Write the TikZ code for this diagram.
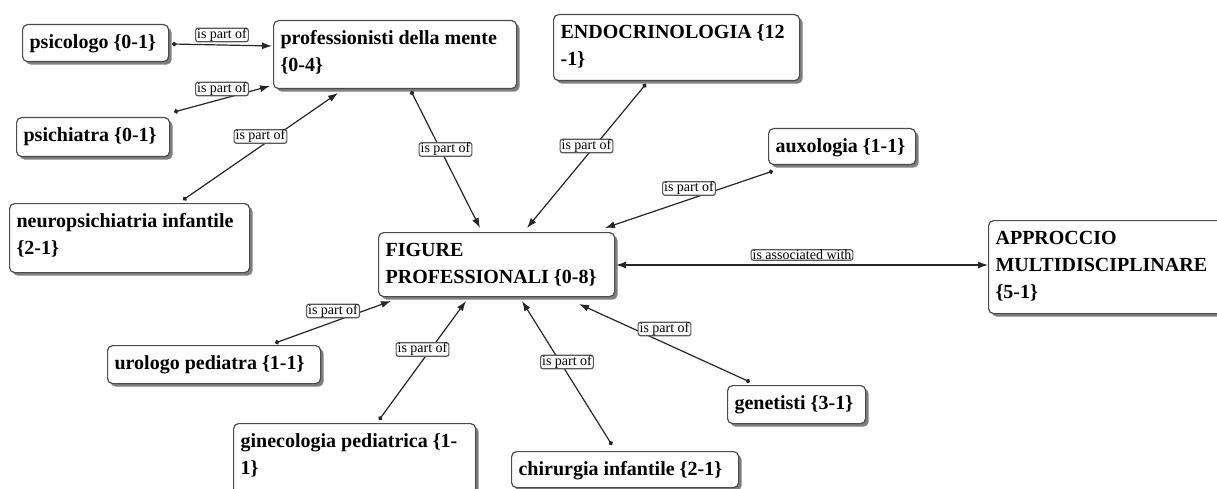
\documentclass[tikz,border=0pt]{standalone}
\usepackage{fontspec}
\setmainfont{Liberation Serif}
\usetikzlibrary{arrows.meta,shadows}

% text block of a concept box: fixed size, text set from the top left
\newcommand{\boxtext}[3]{\parbox[c][#2][t]{#1}{\raggedright\strut #3}}

\tikzset{
  concept/.style={rectangle, rounded corners=5pt, draw=black!70, line width=1.2pt,
    fill=white, anchor=north west, inner xsep=7pt, inner ysep=5pt,
    font=\fontsize{20}{27}\selectfont\bfseries,
    drop shadow={shadow xshift=3pt, shadow yshift=-3pt, opacity=0.5, fill=black}},
  lbl/.style={rectangle, rounded corners=2.5pt, draw=black!65, line width=1.2pt,
    fill=white, inner xsep=1.5pt, inner ysep=0.4pt,
    font=\fontsize{14}{14}\selectfont, yshift=10pt},
  conn/.style={draw=black!85, line width=1.2pt,
    {Circle[length=4.5pt]}-{Latex[length=10pt,width=7pt]}},
  assoc/.style={draw=black!85, line width=1.2pt,
    {Latex[length=10pt,width=7pt]}-{Latex[length=10pt,width=7pt]}}
}

\begin{document}
\begin{tikzpicture}[x=1pt,y=-1pt]
\useasboundingbox[fill=white] (0,0) rectangle (1217,489);

% concepts
\node[concept] (psico) at (22,24)  {\boxtext{132pt}{27pt}{psicologo \{0-1\}}};
\node[concept] (prof)  at (273,20) {\boxtext{229pt}{58pt}{professionisti della mente\\\{0-4\}}};
\node[concept] (psich) at (16,117) {\boxtext{139pt}{29pt}{psichiatra \{0-1\}}};
\node[concept] (neuro) at (9,203)  {\boxtext{226pt}{59pt}{neuropsichiatria infantile\\\{2-1\}}};
\node[concept] (endo)  at (553,14) {\boxtext{232pt}{56pt}{ENDOCRINOLOGIA \{12\\-1\}}};
\node[concept] (auxo)  at (768,128) {\boxtext{133pt}{26pt}{auxologia \{1-1\}}};
\node[concept] (fig)   at (378,232) {\boxtext{222pt}{54pt}{FIGURE\\PROFESSIONALI \{0-8\}}};
\node[concept] (appr)  at (988,220) {\boxtext{236pt}{83pt}{APPROCCIO\\MULTIDISCIPLINARE\\\{5-1\}}};
\node[concept] (uro)   at (107,345) {\boxtext{199pt}{28pt}{urologo pediatra \{1-1\}}};
\node[concept] (gine)  at (233,423) {\boxtext{228pt}{60pt}{ginecologia pediatrica \{1-\\1\}}};
\node[concept] (chir)  at (511,451) {\boxtext{213pt}{26pt}{chirurgia infantile \{2-1\}}};
\node[concept] (gen)   at (727,385) {\boxtext{124pt}{28pt}{genetisti \{3-1\}}};

% links
\draw[conn] ([shift={(150,20)}]psico.north west) -- node[lbl] (l1) {is part of} ([shift={(-1,26)}]prof.north west);
\draw[conn] ([shift={(158,-5)}]psich.north west) -- node[lbl] (l2) {is part of} ([shift={(-3,66)}]prof.north west);
\draw[conn] ([shift={(174,-3)}]neuro.north west) -- node[lbl] (l3) {is part of} ([shift={(65,73)}]prof.north west);
\draw[conn] ([shift={(138,71)}]prof.north west) -- node[lbl] (l4) {is part of} ([shift={(102,-4)}]fig.north west);
\draw[conn] ([shift={(93,70)}]endo.north west) -- node[lbl] (l5) {is part of} ([shift={(149,-4)}]fig.north west);
\draw[conn] ([shift={(5,43)}]auxo.north west) -- node[lbl, yshift=1pt] (l6) {is part of} ([shift={(227,-4)}]fig.north west);
\draw[assoc] ([shift={(238,33)}]fig.north west) -- node[lbl] (l7) {is associated with} ([shift={(0,45)}]appr.north west);
\draw[conn] ([shift={(168,-2)}]uro.north west) -- node[lbl, yshift=1pt] (l8) {is part of} ([shift={(13,69)}]fig.north west);
\draw[conn] ([shift={(146,-3)}]gine.north west) -- node[lbl, yshift=1pt] (l9) {is part of} ([shift={(88,69)}]fig.north west);
\draw[conn] ([shift={(101,-6)}]chir.north west) -- node[lbl, yshift=1pt] (l10) {is part of} ([shift={(144,69)}]fig.north west);
\draw[conn] ([shift={(23,-3)}]gen.north west) -- node[lbl, yshift=4pt] (l11) {is part of} ([shift={(201,72)}]fig.north west);
\end{tikzpicture}
\end{document}
